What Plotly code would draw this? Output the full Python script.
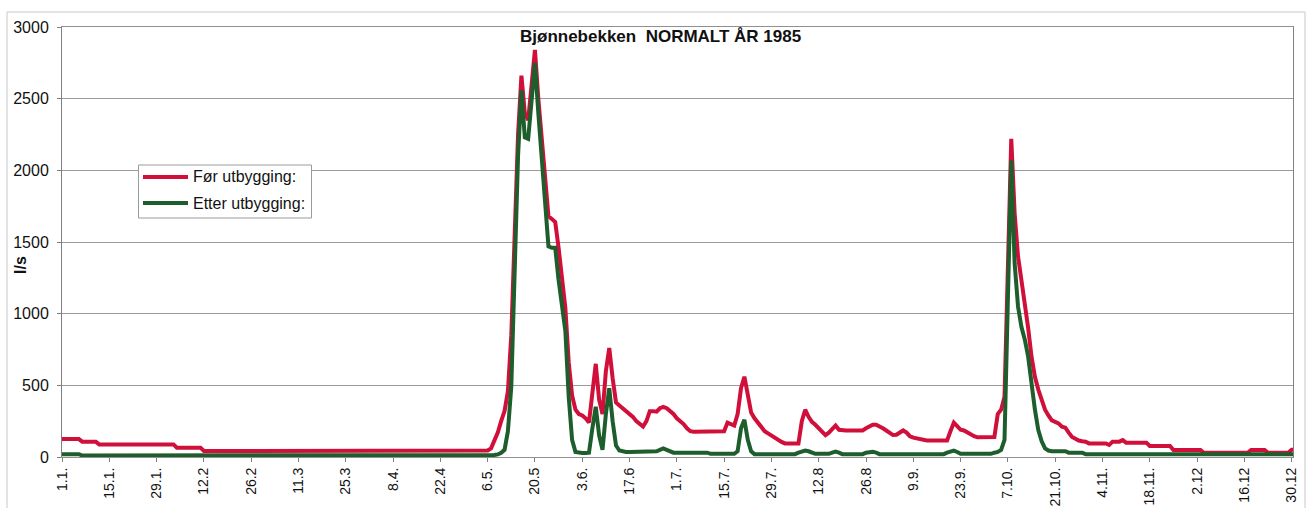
import plotly.graph_objects as go

# Daily discharge (l/s) for the year, one row per 14-day block starting at the tick date
for_utbygging = [
    125, 125, 125, 125, 125, 125, 107, 107, 107, 107, 107, 88, 88, 88,          # 1.1.
    88, 88, 88, 88, 88, 88, 88, 88, 88, 88, 88, 88, 88, 88,                      # 15.1.
    88, 88, 88, 88, 88, 88, 65, 65, 65, 65, 65, 65, 65, 65,                      # 29.1.
    42, 42, 42, 42, 42, 42, 42, 42, 42, 42, 42, 42, 42, 42,                      # 12.2
    42, 42, 42, 42, 42, 42, 42, 42, 42, 42, 42, 42, 42, 42,                      # 26.2
    42, 42, 42, 42, 42, 42, 42, 42, 42, 42, 42, 42, 42, 42,                      # 11.3
    42, 42, 42, 42, 42, 42, 42, 42, 42, 42, 42, 42, 42, 42,                      # 25.3
    42, 42, 42, 45, 45, 45, 45, 45, 45, 45, 45, 45, 45, 45,                      # 8.4.
    45, 45, 45, 45, 45, 45, 45, 45, 45, 45, 45, 45, 45, 45,                      # 22.4
    45, 60, 110, 170, 250, 320, 460, 850, 1550, 2250, 2660, 2400, 2350, 2600,    # 6.5.
    2840, 2500, 2200, 1900, 1680, 1660, 1640, 1460, 1250, 1040, 660, 430, 330, 300,  # 20.5
    290, 270, 240, 420, 650, 400, 300, 600, 760, 550, 380, 360, 340, 320,        # 3.6.
    300, 280, 250, 230, 212, 250, 320, 320, 316, 340, 350, 340, 320, 300,        # 17.6
    270, 250, 230, 200, 180, 177, 177, 177, 177, 177, 177, 177, 177, 177,        # 1.7.
    180, 240, 230, 220, 300, 480, 560, 420, 310, 270, 240, 210, 180, 165,        # 15.7.
    150, 130, 119, 105, 95, 95, 95, 95, 95, 250, 330, 280, 245, 225,             # 29.7.
    200, 170, 153, 170, 200, 220, 190, 185, 185, 185, 185, 185, 185, 185,        # 12.8
    200, 215, 225, 225, 215, 200, 185, 170, 153, 155, 170, 185, 170, 145,        # 26.8
    135, 130, 120, 115, 115, 115, 115, 115, 115, 115, 115, 180, 240, 215,        # 9.9.
    190, 185, 170, 160, 145, 137, 137, 137, 137, 137, 140, 300, 330, 420,        # 23.9.
    1400, 2220, 1700, 1400, 1235, 1080, 900, 700, 560, 470, 400, 330, 290, 255,  # 7.10.
    245, 235, 212, 205, 170, 140, 128, 115, 110, 107, 95, 95, 95, 95,            # 21.10.
    95, 95, 84, 107, 107, 107, 118, 100, 100, 100, 100, 100, 100, 100,           # 4.11.
    77, 77, 77, 77, 77, 77, 77, 49, 49, 49, 49, 49, 49, 49,                      # 18.11.
    49, 49, 30, 30, 30, 30, 30, 30, 30, 30, 30, 30, 30, 30,                      # 2.12
    30, 30, 49, 49, 49, 49, 49, 30, 30, 30, 30, 30, 30, 30,                      # 16.12
    50, 50,                                                                      # 30.12
]

etter_utbygging = [
    20, 20, 20, 20, 20, 20, 10, 10, 10, 10, 10, 10, 10, 10,                      # 1.1.
    10, 10, 10, 10, 10, 10, 10, 10, 10, 10, 10, 10, 10, 10,                      # 15.1.
    10, 10, 10, 10, 10, 10, 10, 10, 10, 10, 10, 10, 10, 10,                      # 29.1.
    10, 10, 10, 10, 10, 10, 10, 10, 10, 10, 10, 10, 10, 10,                      # 12.2
    10, 10, 10, 10, 10, 10, 10, 10, 10, 10, 10, 10, 10, 10,                      # 26.2
    10, 10, 10, 10, 10, 10, 10, 10, 10, 10, 10, 10, 10, 10,                      # 11.3
    10, 10, 10, 10, 10, 10, 10, 10, 10, 10, 10, 10, 10, 10,                      # 25.3
    10, 10, 10, 10, 10, 10, 10, 10, 10, 10, 10, 10, 10, 10,                      # 8.4.
    10, 10, 10, 10, 10, 10, 10, 10, 10, 10, 10, 10, 10, 10,                      # 22.4
    10, 12, 14, 18, 30, 50, 180, 490, 1300, 2100, 2560, 2230, 2220, 2500,        # 6.5.
    2750, 2400, 2100, 1820, 1470, 1460, 1460, 1235, 1050, 880, 420, 120, 35, 30, # 20.5
    28, 28, 30, 200, 350, 150, 50, 300, 480, 250, 80, 45, 38, 35,                # 3.6.
    35, 35, 35, 35, 35, 35, 35, 35, 40, 50, 60, 50, 40, 30,                      # 17.6
    30, 30, 30, 30, 30, 30, 30, 30, 30, 30, 22, 22, 22, 22,                      # 1.7.
    22, 22, 22, 22, 40, 200, 260, 120, 40, 20, 20, 20, 20, 20,                   # 15.7.
    20, 20, 20, 20, 20, 20, 20, 20, 30, 40, 45, 40, 30, 22,                      # 29.7.
    22, 22, 22, 22, 30, 37, 30, 20, 20, 20, 20, 20, 20, 20,                      # 12.8
    30, 37, 37, 30, 20, 20, 20, 20, 20, 20, 20, 20, 20, 20,                      # 26.8
    20, 20, 20, 20, 20, 20, 20, 20, 20, 20, 30, 40, 44, 35,                      # 9.9.
    22, 22, 22, 22, 22, 22, 22, 22, 22, 22, 30, 35, 49, 120,                     # 23.9.
    1100, 2070, 1350, 1050, 909, 820, 700, 491, 330, 188, 110, 60, 45, 40,       # 7.10.
    40, 40, 40, 40, 30, 30, 30, 30, 30, 20, 20, 20, 20, 20,                      # 21.10.
    20, 20, 20, 20, 20, 20, 20, 20, 20, 20, 20, 20, 20, 20,                      # 4.11.
    20, 20, 20, 20, 20, 20, 20, 20, 20, 20, 20, 20, 20, 20,                      # 18.11.
    20, 20, 20, 20, 20, 20, 20, 20, 20, 20, 20, 20, 20, 20,                      # 2.12
    20, 20, 20, 20, 20, 20, 20, 20, 20, 20, 20, 20, 20, 20,                      # 16.12
    20, 20,                                                                      # 30.12
]

tick_labels = [
    "1.1.", "15.1.", "29.1.", "12.2", "26.2", "11.3", "25.3", "8.4.", "22.4",
    "6.5.", "20.5", "3.6.", "17.6", "1.7.", "15.7.", "29.7.", "12.8", "26.8",
    "9.9.", "23.9.", "7.10.", "21.10.", "4.11.", "18.11.", "2.12", "16.12", "30.12",
]
tick_days = [14 * i for i in range(len(tick_labels))]
days = list(range(len(for_utbygging)))

RED = "#d0103a"
GREEN = "#1d5e2c"
FONT = "Liberation Sans, Arial, sans-serif"

W, H = 1308, 508
ML, MR, MT, MB = 62, 15, 27, 51
PW, PH = W - ML - MR, H - MT - MB


def px(x):
    return (x - ML) / PW


def py(y):
    return (H - MB - y) / PH


fig = go.Figure()
fig.add_trace(go.Scatter(x=days, y=for_utbygging, mode="lines",
                         line=dict(color=RED, width=4), name="Før utbygging:"))
fig.add_trace(go.Scatter(x=days, y=etter_utbygging, mode="lines",
                         line=dict(color=GREEN, width=4), name="Etter utbygging:"))

shapes = [
    # outer chart frame
    dict(type="rect", xref="paper", yref="paper", x0=px(7), x1=px(1305),
         y0=py(530), y1=py(12), line=dict(color="#c8c8c8", width=1), layer="below"),
    # legend box
    dict(type="rect", xref="paper", yref="paper", x0=px(138.5), x1=px(311.5),
         y0=py(218), y1=py(165), line=dict(color="#9a9a9a", width=1),
         fillcolor="white"),
    dict(type="line", xref="paper", yref="paper", x0=px(143), x1=px(188),
         y0=py(177), y1=py(177), line=dict(color=RED, width=4)),
    dict(type="line", xref="paper", yref="paper", x0=px(143), x1=px(188),
         y0=py(203), y1=py(203), line=dict(color=GREEN, width=4)),
]

annotations = [
    dict(text="<b>Bjønnebekken  NORMALT ÅR 1985</b>", xref="paper", yref="paper",
         x=px(660), y=py(36), xanchor="center", yanchor="middle", showarrow=False,
         font=dict(family=FONT, size=17, color="#111")),
    dict(text="<b>l/s</b>", xref="paper", yref="paper", x=px(20), y=py(265),
         xanchor="center", yanchor="middle", textangle=-90, showarrow=False,
         font=dict(family=FONT, size=16, color="#111")),
    dict(text="Før utbygging:", xref="paper", yref="paper", x=px(191), y=py(177),
         xanchor="left", yanchor="middle", showarrow=False,
         font=dict(family=FONT, size=16, color="#111")),
    dict(text="Etter utbygging:", xref="paper", yref="paper", x=px(191), y=py(203),
         xanchor="left", yanchor="middle", showarrow=False,
         font=dict(family=FONT, size=16, color="#111")),
]

fig.update_layout(
    width=W, height=H,
    margin=dict(l=ML, r=MR, t=MT, b=MB, autoexpand=False),
    paper_bgcolor="white", plot_bgcolor="white",
    showlegend=False,
    shapes=shapes, annotations=annotations,
    font=dict(family=FONT, color="#111"),
    xaxis=dict(
        range=[0, 364.4], tickmode="array", tickvals=tick_days, ticktext=tick_labels,
        tickangle=-90, tickfont=dict(size=14, family=FONT, color="#111"),
        ticks="outside", ticklen=4, tickcolor="#808080", automargin=False,
        showgrid=False, zeroline=False,
        showline=True, linecolor="#909090", linewidth=1, mirror=True,
    ),
    yaxis=dict(
        range=[0, 3000], dtick=500, tick0=0,
        tickfont=dict(size=16, family=FONT, color="#111"),
        ticks="outside", ticklen=4, tickcolor="#808080", automargin=False,
        showgrid=True, gridcolor="#9a9a9a", gridwidth=1, zeroline=False,
        showline=True, linecolor="#808080", linewidth=1, mirror=True,
        ticklabelstandoff=5,
    ),
)

fig.write_html("out.html")
